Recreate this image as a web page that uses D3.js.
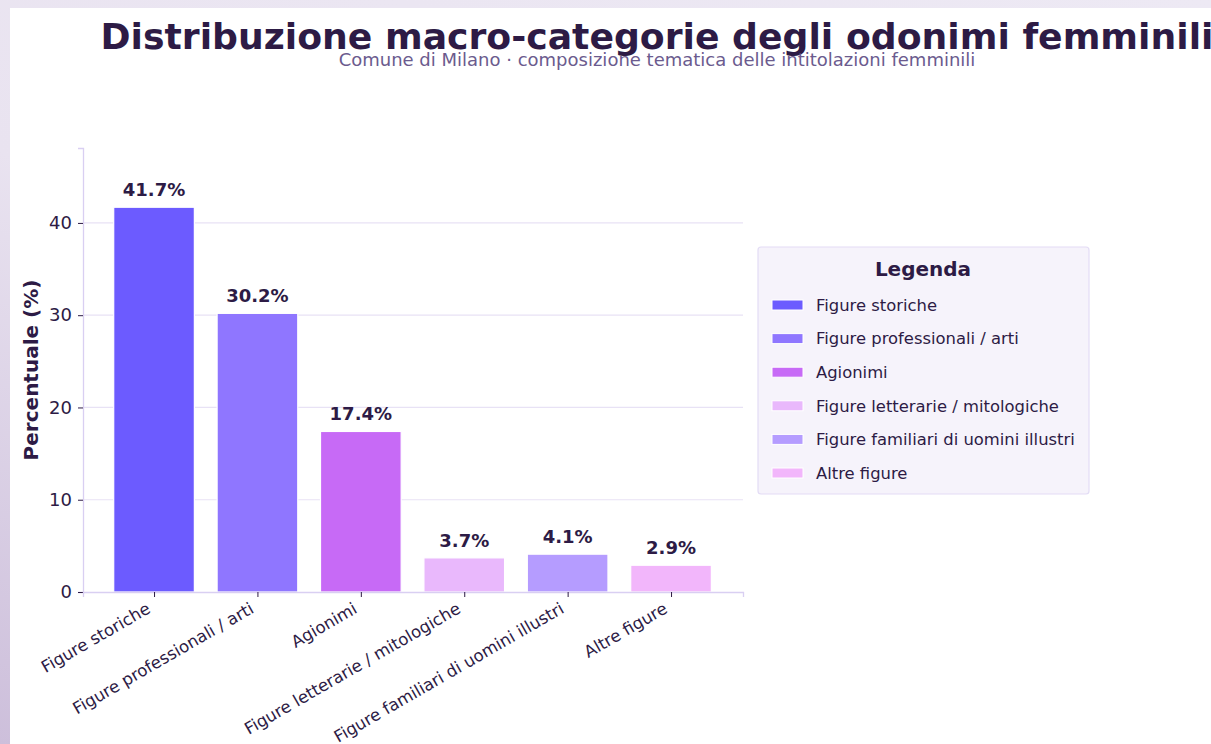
<!DOCTYPE html>
<html><head><meta charset="utf-8">
<script src="https://cdn.jsdelivr.net/npm/d3@7"></script>
<style>
html,body{margin:0;padding:0;}
body{width:1211px;height:744px;overflow:hidden;background:linear-gradient(200deg,#ede9f4 0%,#e9e3f0 50%,#cdbfdb 100%);}
#card{position:absolute;left:10px;top:8px;width:1220px;height:760px;background:#fff;}
svg{position:absolute;left:0;top:0;}
text{font-family:"DejaVu Sans",sans-serif;}
</style></head><body>
<div id="card"></div>
<svg id="chart" width="1211" height="744"></svg>
<script>
const categories = ["Figure storiche","Figure professionali / arti","Agionimi","Figure letterarie / mitologiche","Figure familiari di uomini illustri","Altre figure"];
const values = [41.7, 30.2, 17.4, 3.7, 4.1, 2.9];
const colors = ["#6c5bff","#8f76ff","#c76af6","#e9b8fc","#b59cff","#f2b6fb"];
const yTicks = [0,10,20,30,40];
const titleText = "Distribuzione macro-categorie degli odonimi femminili";
const subtitleText = "Comune di Milano · composizione tematica delle intitolazioni femminili";
const yLabel = "Percentuale (%)";
const legendTitle = "Legenda";

(function(){
const svg = d3.select("#chart");
const dark = "#2d1b45";
const pL = 83, pR = 743, pB = 592, pT = 148;

const x = d3.scaleLinear().domain([-0.687, categories.length - 1 + 0.696]).range([pL, pR]);
const y = d3.scaleLinear().domain([0, d3.max(values) * 1.154]).range([pB, pT]);
const bw = 0.78;

svg.append("text").attr("x", 657).attr("y", 49).attr("text-anchor","middle")
  .attr("font-size", 36.2).attr("font-weight","bold").attr("fill", dark).text(titleText);
svg.append("text").attr("x", 657).attr("y", 66).attr("text-anchor","middle")
  .attr("font-size", 18).attr("fill", "#6b5b8e").text(subtitleText);

svg.append("g").selectAll("line").data(yTicks.filter(d=>d>0)).join("line")
  .attr("x1", pL).attr("x2", pR).attr("y1", d=>y(d)).attr("y2", d=>y(d))
  .attr("stroke","#e8e2f5").attr("stroke-width",1.2);

svg.append("g").selectAll("rect").data(values).join("rect")
  .attr("x", (d,i)=>x(i - bw/2)).attr("width", (d,i)=>x(i+bw/2)-x(i-bw/2))
  .attr("y", d=>y(d)).attr("height", d=>y(0)-y(d))
  .attr("fill", (d,i)=>colors[i]).attr("stroke","#fff").attr("stroke-width",1.2);

svg.append("g").selectAll("text").data(values).join("text")
  .attr("x", (d,i)=>x(i)).attr("y", d=>y(d)-11).attr("text-anchor","middle")
  .attr("font-size", 18).attr("font-weight","bold").attr("fill", dark)
  .text(d=>d.toFixed(1)+"%");

const yAxis = d3.axisLeft(y).tickValues(yTicks).tickSize(5).tickPadding(6).tickFormat(d3.format("d"));
const gy = svg.append("g").attr("transform",`translate(${pL},0)`).call(yAxis);
gy.select(".domain").attr("stroke","#d9cff2").attr("stroke-width",1.3);
gy.selectAll(".tick line").attr("stroke",dark).attr("stroke-width",1);
gy.selectAll(".tick text").attr("font-size",18).attr("fill",dark).attr("font-family","DejaVu Sans");

const xAxis = d3.axisBottom(x).tickValues(d3.range(categories.length)).tickSize(5).tickFormat(i=>categories[i]);
const gx = svg.append("g").attr("transform",`translate(0,${pB})`).call(xAxis);
gx.select(".domain").attr("stroke","#d9cff2").attr("stroke-width",1.3);
gx.selectAll(".tick line").attr("stroke",dark).attr("stroke-width",1);
gx.selectAll(".tick text").attr("font-size",16.6).attr("fill",dark).attr("font-family","DejaVu Sans")
  .attr("text-anchor","end").attr("dy",null).attr("y",0)
  .attr("transform","translate(-3,20) rotate(-30)");

svg.append("text").attr("transform",`translate(38,370) rotate(-90)`).attr("text-anchor","middle")
  .attr("font-size",20).attr("font-weight","bold").attr("fill",dark).text(yLabel);

const lg = svg.append("g");
lg.append("rect").attr("x",758).attr("y",247).attr("width",331).attr("height",247).attr("rx",3)
  .attr("fill","#f6f3fb").attr("stroke","#e3dcf5").attr("stroke-width",1.2);
lg.append("text").attr("x",923).attr("y",276).attr("text-anchor","middle")
  .attr("font-size",20).attr("font-weight","bold").attr("fill",dark).text(legendTitle);
const items = lg.selectAll("g.item").data(categories).join("g").attr("class","item")
  .attr("transform",(d,i)=>`translate(0,${305 + i*33.6})`);
items.append("rect").attr("x",772).attr("y",-5).attr("width",31).attr("height",10)
  .attr("fill",(d,i)=>colors[i]).attr("stroke","#fff").attr("stroke-width",1);
items.append("text").attr("x",816).attr("y",5.8).attr("font-size",16.4).attr("fill",dark).text(d=>d);
})();
</script>
</body></html>
